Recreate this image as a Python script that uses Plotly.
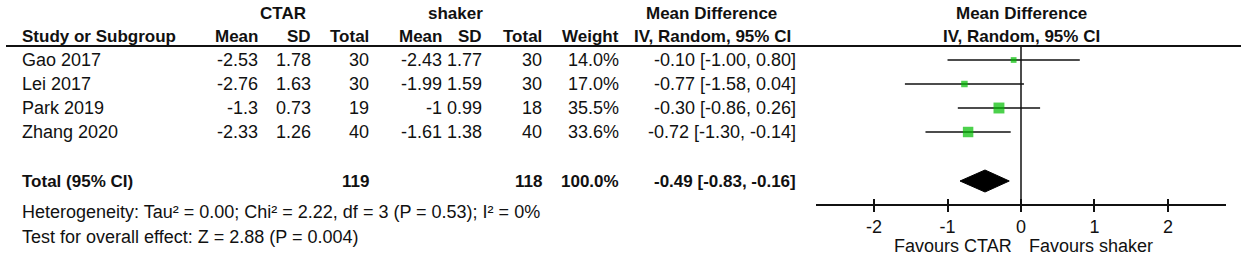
import plotly.graph_objects as go

# ---------------- data ----------------
studies = ["Gao 2017", "Lei 2017", "Park 2019", "Zhang 2020"]
ctar_mean = [-2.53, -2.76, -1.3, -2.33]
ctar_sd = [1.78, 1.63, 0.73, 1.26]
ctar_n = [30, 30, 19, 40]
shaker_mean = [-2.43, -1.99, -1, -1.61]
shaker_sd = [1.77, 1.59, 0.99, 1.38]
shaker_n = [30, 30, 18, 40]
weight = [14.0, 17.0, 35.5, 33.6]
md = [-0.10, -0.77, -0.30, -0.72]
ci_lo = [-1.00, -1.58, -0.86, -1.30]
ci_hi = [0.80, 0.04, 0.26, -0.14]

total_label = "Total (95% CI)"
total_ctar_n = 119
total_shaker_n = 118
total_weight = 100.0
total_md = -0.49
total_lo = -0.83
total_hi = -0.16

heterogeneity = "Heterogeneity: Tau² = 0.00; Chi² = 2.22, df = 3 (P = 0.53); I² = 0%"
overall = "Test for overall effect: Z = 2.88 (P = 0.004)"
tick_vals = [-2, -1, 0, 1, 2]
favours_left = "Favours CTAR"
favours_right = "Favours shaker"

# ---------------- layout constants ----------------
W, H = 1248, 260
FONT = "Liberation Sans, Arial, sans-serif"
FS = 18
FS_B = 17
TXT = "#111111"
GREEN = "#00BE00"

row_y0, row_dy = 60, 24
row_y = [row_y0 + i * row_dy for i in range(len(studies))]
total_y = 181
het_y, overall_y = 212, 237
hdr1_y, hdr2_y = 13, 36
rule_y = 46
axis_y = 205

col_right = {
    "cm": 259, "csd": 312, "cn": 370,
    "sm": 443, "ssd": 483, "sn": 543,
    "w": 620, "ci": 797,
}
left_x = 21

x_range = [-2.79, 2.79]
x_dom = [816 / W, 1226 / W]


def px(x):
    return x / W


def g(v):
    return f"{v:g}"


annotations = []


def add_text(x, y, text, anchor="right", bold=False, xref="paper", xshift=0):
    annotations.append(dict(
        x=x, y=y, xref=xref, yref="y", text=f"<b>{text}</b>" if bold else text,
        showarrow=False, xanchor=anchor, yanchor="middle", xshift=xshift,
        font=dict(family=FONT, size=FS_B if bold else FS, color=TXT), borderpad=0,
    ))


# headers
add_text(px(283), hdr1_y, "CTAR", "center", True)
add_text(px(455), hdr1_y, "shaker", "center", True)
add_text(px(711), hdr1_y, "Mean Difference", "center", True)
add_text(0, hdr1_y, "Mean Difference", "center", True, xref="x")
add_text(px(left_x), hdr2_y, "Study or Subgroup", "left", True)
for key, lab in [("cm", "Mean"), ("csd", "SD"), ("cn", "Total"),
                 ("sm", "Mean"), ("ssd", "SD"), ("sn", "Total"), ("w", "Weight")]:
    add_text(px(col_right[key]), hdr2_y, lab, "right", True)
add_text(px(col_right["ci"] - 5), hdr2_y, "IV, Random, 95% CI", "right", True)
add_text(0, hdr2_y, "IV, Random, 95% CI", "center", True, xref="x")

# study rows
for i, s in enumerate(studies):
    y = row_y[i]
    add_text(px(left_x), y, s, "left")
    add_text(px(col_right["cm"]), y, g(ctar_mean[i]))
    add_text(px(col_right["csd"]), y, f"{ctar_sd[i]:.2f}")
    add_text(px(col_right["cn"]), y, str(ctar_n[i]))
    add_text(px(col_right["sm"]), y, g(shaker_mean[i]))
    add_text(px(col_right["ssd"]), y, f"{shaker_sd[i]:.2f}")
    add_text(px(col_right["sn"]), y, str(shaker_n[i]))
    add_text(px(col_right["w"]), y, f"{weight[i]:.1f}%")
    add_text(px(col_right["ci"]), y, f"{md[i]:.2f} [{ci_lo[i]:.2f}, {ci_hi[i]:.2f}]")

# total row
add_text(px(left_x), total_y, total_label, "left", True)
add_text(px(col_right["cn"]), total_y, str(total_ctar_n), "right", True)
add_text(px(col_right["sn"]), total_y, str(total_shaker_n), "right", True)
add_text(px(col_right["w"]), total_y, f"{total_weight:.1f}%", "right", True)
add_text(px(col_right["ci"]), total_y, f"{total_md:.2f} [{total_lo:.2f}, {total_hi:.2f}]", "right", True)

add_text(px(left_x), het_y, heterogeneity, "left")
add_text(px(left_x), overall_y, overall, "left")

add_text(0, 246, favours_left, "right", xref="x", xshift=-8)
add_text(0, 246, favours_right, "left", xref="x", xshift=7)

# ---------------- traces ----------------
fig = go.Figure()

sizes = [2.4 + 0.24 * w for w in weight]
fig.add_trace(go.Scatter(
    x=md, y=row_y, mode="markers",
    marker=dict(symbol="square", size=sizes, color=GREEN, line=dict(width=0)),
    error_x=dict(type="data", symmetric=False,
                 array=[h - m for h, m in zip(ci_hi, md)],
                 arrayminus=[m - l for m, l in zip(md, ci_lo)],
                 color="#111111", thickness=1.6, width=0),
    hoverinfo="skip", showlegend=False,
))

half_h = 11
fig.add_trace(go.Scatter(
    x=[total_lo, total_md, total_hi, total_md, total_lo],
    y=[total_y, total_y - half_h, total_y, total_y + half_h, total_y],
    mode="lines", fill="toself", fillcolor="black",
    line=dict(color="black", width=1), hoverinfo="skip", showlegend=False,
))

# helper trace for overlay axis (ticks crossing the axis line)
fig.add_trace(go.Scatter(x=[0], y=[-100], xaxis="x2", yaxis="y",
                         mode="markers", marker=dict(opacity=0),
                         hoverinfo="skip", showlegend=False))

shapes = [
    dict(type="line", xref="paper", yref="y", x0=px(6), x1=px(1241),
         y0=rule_y, y1=rule_y, line=dict(color="#111111", width=2)),
    dict(type="line", xref="x", yref="y", x0=0, x1=0, y0=rule_y, y1=axis_y,
         line=dict(color="#111111", width=1.5)),
]

axis_pos = (H - axis_y) / H
common_x = dict(domain=x_dom, range=x_range, anchor="free", position=axis_pos,
                tickmode="array", tickvals=tick_vals, showgrid=False,
                zeroline=False, fixedrange=True, tickwidth=1.5, tickcolor="#111111",
                ticklen=6)

fig.update_layout(
    width=W, height=H,
    margin=dict(l=0, r=0, t=0, b=0),
    paper_bgcolor="white", plot_bgcolor="rgba(0,0,0,0)",
    showlegend=False,
    xaxis=dict(**common_x, ticks="outside", showline=True, linecolor="#111111",
               linewidth=1.5, ticktext=[str(v) for v in tick_vals],
               tickfont=dict(family=FONT, size=FS, color=TXT)),
    xaxis2=dict(**common_x, overlaying="x", ticks="inside", showline=False,
                showticklabels=False),
    yaxis=dict(range=[H, 0], domain=[0, 1], visible=False, fixedrange=True),
    annotations=annotations,
    shapes=shapes,
)

fig.write_html("out.html", config={"displayModeBar": False},
               post_script="document.body.style.margin='0';")
